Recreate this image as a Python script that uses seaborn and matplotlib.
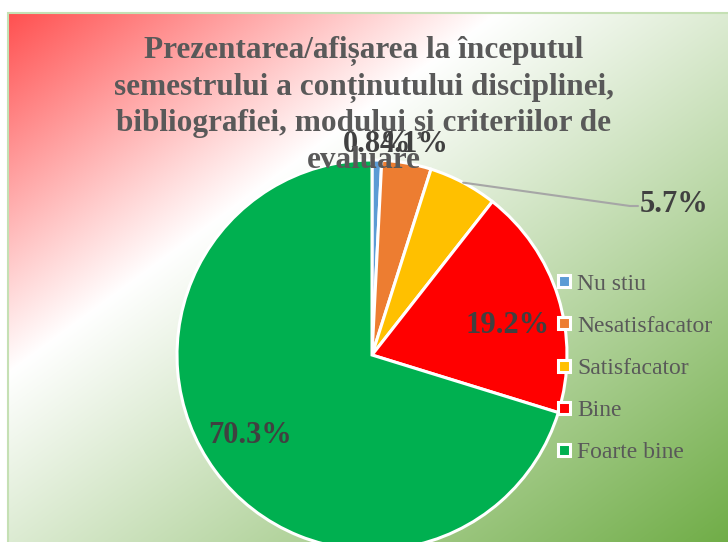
import numpy as np
import seaborn as sns
import matplotlib.pyplot as plt
from matplotlib.lines import Line2D
from matplotlib.patches import Rectangle

# data
categories = ["Nu stiu", "Nesatisfacator", "Satisfacator", "Bine", "Foarte bine"]
values = [0.8, 4.1, 5.7, 19.2, 70.3]
pct_labels = ["0.8%", "4.1%", "5.7%", "19.2%", "70.3%"]
colors = ["#5B9BD5", "#ED7D31", "#FFC000", "#FF0000", "#00B050"]
title = ("Prezentarea/afișarea la începutul\n"
         "semestrului a conținutului disciplinei,\n"
         "bibliografiei, modului și criteriilor de\n"
         "evaluare")

sns.set_style("white")
plt.rcParams['font.family'] = ['Liberation Serif', 'DejaVu Serif']

W, H = 728, 542
fig = plt.figure(figsize=(W / 100, H / 100), dpi=100)
ax = fig.add_axes([0, 0, 1, 1])

# chart area background: diagonal gradient red -> white -> green
fx0, fy_top = 8, 13
fw, fh = W - fx0, H - fy_top
xx, yy = np.meshgrid(np.arange(fw), np.arange(fh))
t = (xx / fw + yy / fh) / 2
stops = [0.0, 0.34, 1.0]
red = np.array([255, 80, 80]) / 255
white = np.array([255, 255, 255]) / 255
green = np.array([112, 173, 71]) / 255
img = np.zeros((fh, fw, 3))
for c in range(3):
    img[..., c] = np.interp(t, stops, [red[c], white[c], green[c]])
ax.imshow(img, extent=[fx0, W, 0, H - fy_top], origin='upper', zorder=0, aspect='auto')
ax.add_patch(Rectangle((fx0, -2), fw + 2, H - fy_top + 2, fill=False,
                       edgecolor="#C5E0B4", linewidth=1.5, zorder=1))

# pie
cx, cy, R = 372, H - 355, 195
wedges, _ = ax.pie(values, colors=colors, startangle=90, counterclock=False,
                   radius=R, center=(cx, cy),
                   wedgeprops=dict(edgecolor='white', linewidth=2.2))
for w in wedges:
    w.set_zorder(2)

ax.set_xlim(0, W)
ax.set_ylim(0, H)
ax.set_aspect('auto')
ax.axis('off')

# data labels (radius factor, angle shift in degrees)
label_pos = [(1.08, 0), (1.1, -1), None, (0.71, -5), (0.75, -3)]
for w, lab, pos in zip(wedges, pct_labels, label_pos):
    mid = np.deg2rad((w.theta1 + w.theta2) / 2)
    if pos is None:
        # leader line label
        ex, ey = cx + R * np.cos(mid), cy + R * np.sin(mid)
        kx, ky = 630, H - 206
        ax.plot([ex, kx, kx + 8], [ey, ky, ky], color="#A6A6A6", lw=1.5, zorder=3)
        ax.text(kx + 10, ky + 1, lab, ha='left', va='center', fontsize=22,
                fontweight='bold', color="#404040", zorder=5)
        continue
    r, shift = pos
    a = mid + np.deg2rad(shift)
    ax.text(cx + r * R * np.cos(a), cy + r * R * np.sin(a), lab,
            ha='center', va='center', fontsize=22, fontweight='bold',
            color="#404040", zorder=5)

# title
fig.text(364 / W, 1 - 36 / H, title, ha='center', va='top', fontsize=22.5,
         fontweight='bold', color="#595959", linespacing=1.3, zorder=4)

# legend
handles = [Line2D([], [], marker='s', linestyle='', markersize=8,
                  markerfacecolor=c, markeredgecolor='white', markeredgewidth=2.2)
           for c in colors]
leg = ax.legend(handles, categories, loc='center left',
                bbox_to_anchor=(557 / W, 1 - 368 / H), frameon=False,
                fontsize=17, handlelength=0.6, handletextpad=0.25,
                labelspacing=0.87, borderpad=0, borderaxespad=0)
for txt in leg.get_texts():
    txt.set_color("#595959")
leg.set_zorder(6)

fig.savefig("out.png", dpi=100)
